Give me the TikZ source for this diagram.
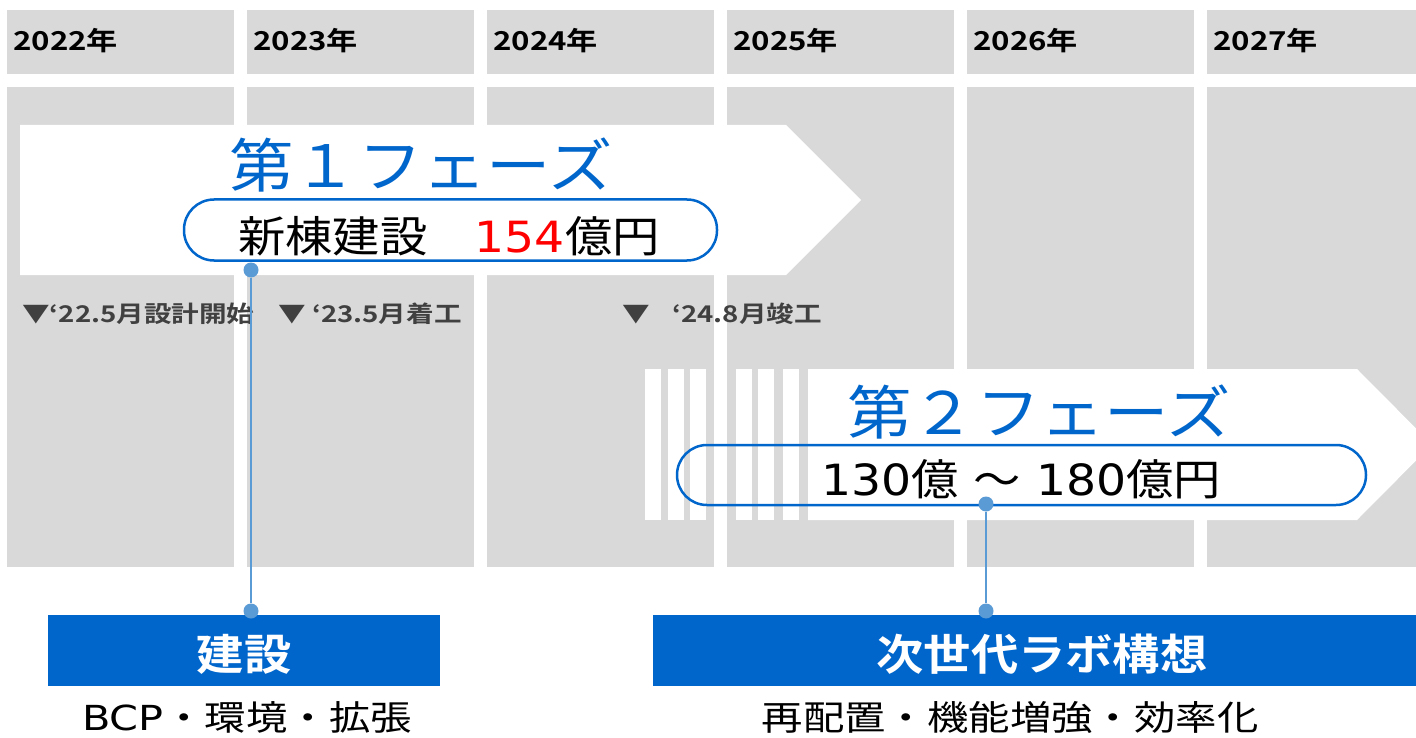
\documentclass[tikz,border=0pt]{standalone}
\usepackage{fontspec}
\setmainfont{Noto Sans CJK JP}[BoldFont={Noto Sans CJK JP Bold}]
\newfontfamily\jpa{Noto Sans CJK JP}[FakeStretch=1.1,BoldFont={Noto Sans CJK JP Bold}]
\newfontfamily\jpb{Noto Sans CJK JP}[FakeStretch=1.2,BoldFont={Noto Sans CJK JP Bold}]
\newfontfamily\lata{DejaVu Sans}[FakeStretch=1.1]
\newfontfamily\latb{DejaVu Sans}[FakeStretch=1.2]
\definecolor{colgray}{HTML}{D9D9D9}
\definecolor{phblue}{HTML}{0066CC}
\definecolor{lnblue}{HTML}{5B9BD5}
\definecolor{msgray}{HTML}{404040}
\definecolor{pricered}{HTML}{FF0000}
\tikzset{
  pill/.style={draw=phblue, line width=2.5pt, rounded corners=30pt, inner sep=0pt},
  dotnode/.style={circle, fill=lnblue, inner sep=0pt, minimum size=15pt},
  conn/.style={draw=lnblue, line width=2.6pt},
  bbox/.style={fill=phblue, inner sep=0pt, anchor=north west},
  hdr/.style={anchor=base west, inner sep=0pt, font=\jpb\bfseries\fontsize{26}{30}\selectfont},
  mstone/.style={anchor=base west, inner sep=0pt, text=msgray, font=\jpb\bfseries\fontsize{23}{27}\selectfont},
  phtitle/.style={anchor=base, inner sep=0pt, text=phblue, font=\jpa\fontsize{58.5}{63}\selectfont},
  phsub/.style={anchor=base, inner sep=0pt, font=\jpa\fontsize{43}{48}\selectfont},
  btitle/.style={anchor=base, inner sep=0pt, text=white, font=\jpa\bfseries\fontsize{43}{47}\selectfont},
  bsub/.style={anchor=base, inner sep=0pt, font=\jpb\fontsize{34.5}{38}\selectfont},
}
\begin{document}
\begin{tikzpicture}[x=1pt,y=-1pt]
\useasboundingbox (0,0) rectangle (1416,738);
\fill[white] (0,0) rectangle (1416,738);
% columns
\foreach \i in {0,...,5}{
  \fill[colgray] ({7+240*\i},10) rectangle ({233.5+240*\i},74);
  \fill[colgray] ({7+240*\i},87) rectangle ({233.5+240*\i},567);
}
% year headers
\node[hdr] (y22) at (13,51) {2022年};
\node[hdr] (y23) at (253,51) {2023年};
\node[hdr] (y24) at (493,51) {2024年};
\node[hdr] (y25) at (733,51) {2025年};
\node[hdr] (y26) at (973,51) {2026年};
\node[hdr] (y27) at (1213,51) {2027年};
% phase 1 arrow
\fill[white] (20,125) -- (786,125) -- (861,200) -- (786,275) -- (20,275) -- cycle;
% phase 2 stripes and arrow
\foreach \a/\b in {645/661,668/684,690/706,736/752,758/774,783/799}{
  \fill[white] (\a,369) rectangle (\b,520);
}
\fill[white] (808,369) -- (1357,369) -- (1432,444.5) -- (1357,520) -- (808,520) -- cycle;
% milestones
\node[mstone] (m1) at (22,322) {▼‘22.5月設計開始};
\node[mstone] (m2) at (278,322) {▼ ‘23.5月着工};
\node[mstone] (m3a) at (622,322) {▼};
\node[mstone] (m3) at (672,322) {‘24.8月竣工};
% phase titles
\node[phtitle] (t1) at (421,188) {第１フェーズ};
\node[phtitle] (t2) at (1039,434) {第２フェーズ};
% pills
\node[pill, minimum width=533pt, minimum height=61pt] (p1) at (450.5,230) {};
\node[pill, minimum width=689pt, minimum height=60pt] (p2) at (1021.5,475) {};
\node[phsub] (s1) at (449,252) {新棟建設　{\lata\color{pricered}154}億円};
\node[phsub] (s2) at (1021,495) {{\lata 130}億{\lata\ }～{\lata\ 180}億円};
% bottom boxes
\node[bbox, minimum width=392pt, minimum height=71pt] (b1) at (48,615) {};
\node[bbox, minimum width=770pt, minimum height=71pt] (b2) at (653,615) {};
\node[btitle] (bt1) at (244,670) {建設};
\node[btitle] (bt2) at (1042,670) {次世代ラボ構想};
\node[bsub] (bs1) at (247,730) {{\latb BCP}・環境・拡張};
\node[bsub] (bs2) at (1010,730) {再配置・機能増強・効率化};
% connectors
\node[dotnode] (d1) at (251,270) {};
\node[dotnode] (d1b) at (251,611) {};
\node[dotnode] (d2) at (986,504) {};
\node[dotnode] (d2b) at (986,611) {};
\draw[conn] (d1) -- (d1b);
\draw[conn] (d2) -- (d2b);
\end{tikzpicture}
\end{document}
